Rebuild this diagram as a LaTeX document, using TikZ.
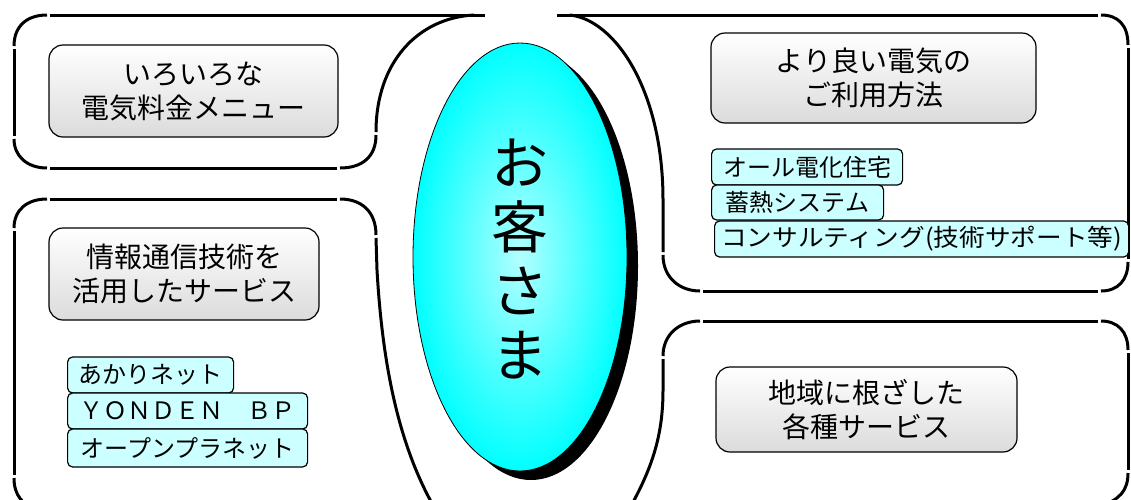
\documentclass[tikz,border=0pt]{standalone}
\usepackage{fontspec}
\usepackage{graphicx}
\setmainfont{Noto Sans CJK JP}
\usetikzlibrary{shapes.geometric}
\definecolor{lcyan}{RGB}{204,255,255}
\begin{document}
\begin{tikzpicture}[x=1pt,y=-1pt,
  panel/.style={line width=3pt},
  bigbox/.style={draw=black, line width=1.2pt, rounded corners=14pt,
    top color=white, bottom color=black!14, align=center,
    font=\fontsize{28}{34}\selectfont, inner sep=0pt},
  smallbox/.style={draw=black, line width=1.2pt, rounded corners=5pt,
    fill=lcyan, anchor=west, minimum height=36pt, inner sep=0pt,
    font=\fontsize{24}{28}\selectfont},
]
\useasboundingbox (0,0) rectangle (1131,499);

% ---- top-left panel
\draw[panel] (14,49) -- (14,136);
\draw[panel] (14,46) .. controls (14,26) and (27,15) .. (47,15);
\draw[panel] (50,15) -- (485,15);
\draw[panel] (474,15) .. controls (418,18) and (376,62) .. (376,132);
\draw[panel] (376,135) .. controls (376,157) and (362,168) .. (340,168);
\draw[panel] (337,168) -- (50,168);
\draw[panel] (47,168) .. controls (27,168) and (14,156) .. (14,139);

% ---- bottom-left panel
\draw[panel] (50,199) -- (337,199);
\draw[panel] (340,199) .. controls (362,199) and (376,212) .. (376,235);
\draw[panel] (376,238) -- (377,270) .. controls (383,375) and (402,460) .. (445,525);
\draw[panel] (14,231) -- (14,475);
\draw[panel] (14,228) .. controls (14,210) and (27,199) .. (47,199);
\draw[panel] (14,478) .. controls (14,495) and (22,505) .. (40,512);

% ---- top-right panel
\draw[panel] (557,15) -- (1098,15);
\draw[panel] (570,15) .. controls (615,20) and (663,90) .. (663,200) -- (663,252);
\draw[panel] (663,255) .. controls (663,278) and (680,291) .. (700,291);
\draw[panel] (703,291) -- (1098,291);
\draw[panel] (1101,291) .. controls (1118,291) and (1128,280) .. (1128,262);
\draw[panel] (1128,259) -- (1128,48);
\draw[panel] (1128,45) .. controls (1128,25) and (1118,15) .. (1101,15);

% ---- bottom-right panel
\draw[panel] (703,321) -- (1098,321);
\draw[panel] (700,321) .. controls (680,321) and (663,334) .. (663,356);
\draw[panel] (663,359) -- (663,390) .. controls (663,440) and (650,475) .. (620,525);
\draw[panel] (1101,321) .. controls (1118,321) and (1128,332) .. (1128,350);
\draw[panel] (1128,353) -- (1128,470);
\draw[panel] (1128,473) .. controls (1128,490) and (1120,500) .. (1100,506);

% ---- central ellipse
\node[ellipse, fill=black, minimum width=214pt, minimum height=428pt, inner sep=0pt]
  (custshadow) at (531,266) {};
\node[ellipse, draw=black, line width=0.8pt, inner color=cyan!30!white, outer color=cyan,
  minimum width=214pt, minimum height=428pt, inner sep=0pt] (cust) at (520,257) {};
\node[align=center, font=\fontsize{57}{64}\selectfont] (custtext) at (520,259) {お\\客\\さ\\ま};

% ---- boxes
\node[bigbox, minimum width=289pt, minimum height=92pt] (menu) at (193.5,91)
  {いろいろな\\電気料金メニュー};
\node[bigbox, minimum width=325pt, minimum height=90pt] (better) at (873.5,78)
  {より良い電気の\\ご利用方法};
\node[bigbox, minimum width=270pt, minimum height=92pt] (ict) at (184,274)
  {情報通信技術を\\活用したサービス};
\node[bigbox, minimum width=301pt, minimum height=85pt] (local) at (866.5,409.5)
  {地域に根ざした\\各種サービス};

\node[smallbox, minimum width=166pt] (akari) at (67,375) {あかりネット};
\node[smallbox, minimum width=240pt] (yonden) at (67,411) {ＹＯＮＤＥＮ　ＢＰ};
\node[smallbox, minimum width=240pt, minimum height=38pt] (open) at (67,448) {オープンプラネット};
\node[smallbox, minimum width=191pt] (allel) at (711,167) {オール電化住宅};
\node[smallbox, minimum width=172pt, minimum height=35pt] (heat) at (711,202.5) {蓄熱システム};
\node[smallbox, minimum width=414pt] (consult) at (714,239)
  {\scalebox{1.07}[1]{コンサルティング(技術サポート等)}};
\end{tikzpicture}
\end{document}
